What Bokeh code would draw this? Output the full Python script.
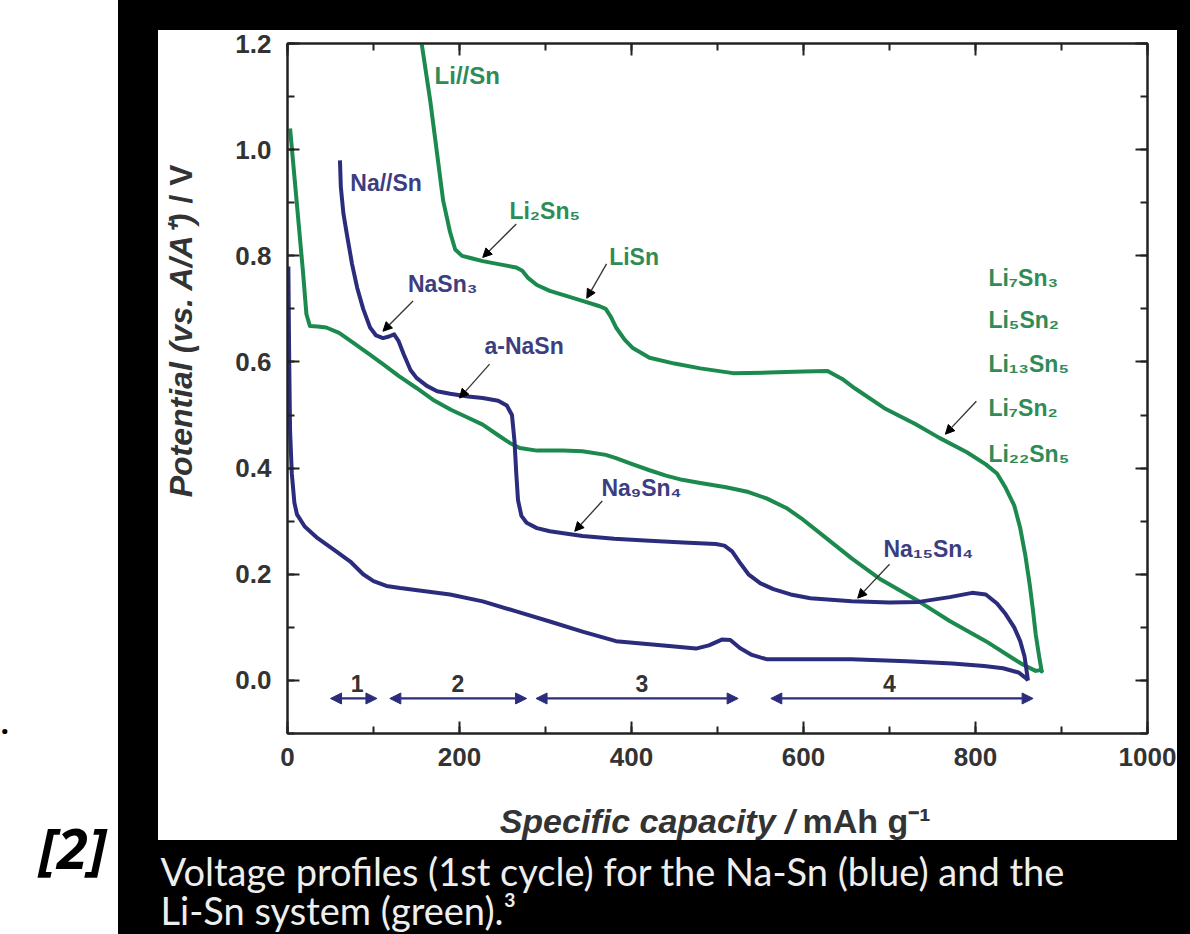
import math
from bokeh.plotting import figure
from bokeh.models import (Range1d, LinearAxis, SingleIntervalTicker, Label, Arrow,
                          NormalHead, PrintfTickFormatter, CustomJSTickFormatter, Spacer)
from bokeh.layouts import row, column
from bokeh.embed import file_html
from bokeh.resources import INLINE

# ---------------- data ----------------
# Li-Sn, lithiation (lower green)
li_dis_x = [3, 8, 13, 18, 22, 26, 35, 45, 60, 75, 95, 111, 130, 150, 169, 190, 210, 227, 245,
            258, 270, 290, 320, 343, 370, 382, 400, 421, 440, 459, 480, 510, 536, 557, 580,
            597, 625, 656, 690, 734, 770, 812, 840, 855, 870, 878]
li_dis_y = [1.04, 0.95, 0.86, 0.77, 0.69, 0.668, 0.667, 0.665, 0.655, 0.638, 0.615, 0.596,
            0.573, 0.551, 0.529, 0.51, 0.495, 0.482, 0.462, 0.448, 0.438, 0.433, 0.433, 0.432,
            0.425, 0.419, 0.408, 0.396, 0.386, 0.378, 0.372, 0.364, 0.355, 0.343, 0.325, 0.306,
            0.27, 0.23, 0.19, 0.149, 0.112, 0.074, 0.045, 0.03, 0.018, 0.02]
# Li-Sn, delithiation (upper green)
li_ch_x = [156, 166, 181, 189, 195, 203, 215, 227, 250, 266, 273, 280, 290, 305, 325, 343, 363,
           370, 376, 382, 392, 401, 421, 450, 480, 518, 560, 600, 628, 645, 660, 694, 730, 758,
           790, 812, 825, 835, 845, 852, 858, 863, 867, 870, 874, 877, 878]
li_ch_y = [1.2, 1.092, 0.904, 0.845, 0.812, 0.8, 0.795, 0.79, 0.783, 0.778, 0.772, 0.758, 0.745,
           0.734, 0.724, 0.715, 0.705, 0.7, 0.685, 0.665, 0.642, 0.627, 0.608, 0.597, 0.588,
           0.579, 0.58, 0.582, 0.583, 0.568, 0.55, 0.513, 0.483, 0.457, 0.43, 0.407, 0.39, 0.363,
           0.33, 0.287, 0.235, 0.181, 0.13, 0.087, 0.045, 0.017, 0.02]
# Na-Sn, sodiation (lower blue)
na_dis_x = [1, 2, 3, 5, 8, 11, 20, 35, 55, 73, 88, 100, 115, 131, 160, 189, 227, 266, 305, 343,
            382, 421, 450, 475, 490, 505, 515, 526, 540, 557, 600, 656, 720, 773, 810, 832, 850,
            859, 861]
na_dis_y = [0.78, 0.6, 0.47, 0.39, 0.335, 0.313, 0.29, 0.268, 0.245, 0.224, 0.2, 0.187, 0.178,
            0.174, 0.168, 0.162, 0.149, 0.13, 0.111, 0.092, 0.074, 0.068, 0.064, 0.06, 0.066,
            0.077, 0.076, 0.061, 0.048, 0.04, 0.04, 0.04, 0.036, 0.032, 0.027, 0.023, 0.015,
            0.004, 0.0]
# Na-Sn, desodiation (upper blue)
na_ch_x = [61, 62, 65, 69, 75, 81, 88, 96, 103, 111, 118, 124, 129, 135, 143, 150, 162, 174, 189,
           210, 227, 245, 255, 261, 264, 266, 268, 272, 278, 290, 305, 343, 380, 421, 460, 498,
           508, 517, 526, 536, 550, 565, 585, 608, 656, 700, 734, 770, 796, 812, 825, 835, 845,
           852, 857, 859, 861]
na_ch_y = [0.98, 0.93, 0.88, 0.841, 0.785, 0.74, 0.70, 0.665, 0.65, 0.645, 0.648, 0.652, 0.64,
           0.615, 0.585, 0.57, 0.555, 0.545, 0.54, 0.535, 0.532, 0.527, 0.518, 0.5, 0.45, 0.39,
           0.34, 0.31, 0.297, 0.287, 0.281, 0.272, 0.267, 0.263, 0.26, 0.257, 0.254, 0.243,
           0.222, 0.2, 0.183, 0.172, 0.162, 0.155, 0.149, 0.147, 0.148, 0.157, 0.165, 0.162,
           0.145, 0.125, 0.1, 0.074, 0.045, 0.023, 0.0]

# reaction regions (double arrows along the bottom)
region_start = [50, 119, 289, 562]
region_end = [104, 278, 524, 867]
region_label = ["1", "2", "3", "4"]
region_label_x = [81, 198, 412, 700]

# phase labels
phase_text = ["Li₂Sn₅", "LiSn", "NaSn₃", "a-NaSn", "Na₉Sn₄", "Na₁₅Sn₄"]
phase_x = [258, 374, 140, 229, 365, 693]
phase_y = [0.885, 0.797, 0.747, 0.63, 0.363, 0.247]
phase_series = ["li", "li", "na", "na", "na", "na"]
ptr_x0 = [266, 371, 146, 235, 366, 700]
ptr_y0 = [0.86, 0.785, 0.715, 0.596, 0.338, 0.219]
ptr_x1 = [227, 348, 111, 200, 334, 663]
ptr_y1 = [0.797, 0.72, 0.658, 0.532, 0.281, 0.155]

li_phase_list = ["Li₇Sn₃", "Li₅Sn₂", "Li₁₃Sn₅", "Li₇Sn₂", "Li₂₂Sn₅"]
li_phase_y = [0.759, 0.679, 0.596, 0.513, 0.426]

x_title = ["Specific capacity /", "mAh g⁻¹"]
y_title = ["Potential (vs. A/A⁺)", "/ V"]
caption_lines = ["Voltage profiles (1st cycle) for the Na-Sn (blue) and the",
                 "Li-Sn system (green).³"]

# ---------------- styles ----------------
GREEN = "#1c8a4e"
BLUE = "#2b2d7c"
GREEN_TXT = "#2f8c56"
BLUE_TXT = "#3b3e80"
INK = "#333333"
FONT = "Liberation Sans"


def panel(x0, y0, w, h, color):
    """A plain figure whose data coordinates equal page pixels (y downward)."""
    f = figure(width=w, height=h, x_range=Range1d(x0, x0 + w), y_range=Range1d(y0 + h, y0),
               output_backend="svg", toolbar_location=None,
               x_axis_location=None, y_axis_location=None,
               min_border=0, min_border_left=0, min_border_right=0,
               min_border_top=0, min_border_bottom=0,
               background_fill_color=color, border_fill_color=color)
    f.grid.visible = False
    f.outline_line_color = None
    return f


# ---------------- main plot ----------------
p = figure(width=972, height=770, x_range=Range1d(0, 1000), y_range=Range1d(-0.1, 1.2001),
           output_backend="svg", toolbar_location=None,
           min_border_left=82, min_border_right=30, min_border_top=13, min_border_bottom=67,
           background_fill_color="white", border_fill_color="white")
p.grid.visible = False
p.outline_line_color = "#222222"
p.outline_line_width = 2

bottom_ax = p.below[0]
left_ax = p.left[0]
xt = SingleIntervalTicker(interval=200, num_minor_ticks=2)
yt = SingleIntervalTicker(interval=0.2, num_minor_ticks=2)
bottom_ax.ticker = xt
left_ax.ticker = yt
left_ax.formatter = PrintfTickFormatter(format="%.1f")

blank_fmt = CustomJSTickFormatter(code="return ''")
top_ax = LinearAxis(ticker=xt, formatter=blank_fmt)
right_ax = LinearAxis(ticker=yt, formatter=blank_fmt)
p.add_layout(top_ax, "above")
p.add_layout(right_ax, "right")

for ax in [bottom_ax, left_ax, top_ax, right_ax]:
    ax.axis_line_color = "#222222"
    ax.axis_line_width = 2
    ax.major_tick_in = 12
    ax.major_tick_out = 0
    ax.minor_tick_in = 7
    ax.minor_tick_out = 0
    ax.major_tick_line_color = "#222222"
    ax.major_tick_line_width = 2
    ax.minor_tick_line_color = "#222222"
    ax.minor_tick_line_width = 2
    ax.major_label_text_font = FONT
    ax.major_label_text_font_style = "bold"
    ax.major_label_text_font_size = "26px"
    ax.major_label_text_color = INK
for ax in [top_ax, right_ax]:
    ax.major_label_standoff = 0
bottom_ax.major_label_standoff = 14
left_ax.major_label_standoff = 16

# curves
p.line(li_dis_x, li_dis_y, line_width=4, color=GREEN, line_join="round")
p.line(li_ch_x, li_ch_y, line_width=4, color=GREEN, line_join="round")
p.line(na_dis_x, na_dis_y, line_width=4, color=BLUE, line_join="round")
p.line(na_ch_x, na_ch_y, line_width=4, color=BLUE, line_join="round")

# region arrows
for s, e, t, tx in zip(region_start, region_end, region_label, region_label_x):
    p.add_layout(Arrow(x_start=s, y_start=-0.034, x_end=e, y_end=-0.034,
                       line_color=BLUE, line_width=2.2,
                       start=NormalHead(size=11, fill_color=BLUE, line_color=BLUE),
                       end=NormalHead(size=11, fill_color=BLUE, line_color=BLUE)))
    p.add_layout(Label(x=tx, y=-0.006, text=t, text_align="center", text_baseline="middle",
                       text_font=FONT, text_font_style="bold", text_font_size="23px",
                       text_color=INK))

# curve names
p.add_layout(Label(x=171, y=1.14, text="Li//Sn", text_baseline="middle", text_font=FONT,
                   text_font_style="bold", text_font_size="24px", text_color=GREEN_TXT))
p.add_layout(Label(x=73, y=0.938, text="Na//Sn", text_baseline="middle", text_font=FONT,
                   text_font_style="bold", text_font_size="23px", text_color=BLUE_TXT))

# phase labels with pointers
for t, x, y, s, a, b, c, d in zip(phase_text, phase_x, phase_y, phase_series,
                                  ptr_x0, ptr_y0, ptr_x1, ptr_y1):
    p.add_layout(Label(x=x, y=y, text=t, text_baseline="middle", text_font=FONT,
                       text_font_style="bold", text_font_size="23px",
                       text_color=GREEN_TXT if s == "li" else BLUE_TXT))
    p.add_layout(Arrow(x_start=a, y_start=b, x_end=c, y_end=d, line_color=INK,
                       line_width=1.3,
                       end=NormalHead(size=9, fill_color="black", line_color="black")))

for t, y in zip(li_phase_list, li_phase_y):
    p.add_layout(Label(x=815, y=y, text=t, text_baseline="middle", text_font=FONT,
                       text_font_style="bold", text_font_size="23px", text_color=GREEN_TXT))
p.add_layout(Arrow(x_start=801, y_start=0.526, x_end=765, y_end=0.464, line_color=INK,
                   line_width=1.3, end=NormalHead(size=9, fill_color="black", line_color="black")))

# ---------------- axis-title strips (page-pixel coordinates) ----------------
ytp = panel(158, 30, 47, 810, "white")
ytp.add_layout(Label(x=180, y=212, text=y_title[0], angle=math.pi / 2,
                     text_align="right", text_baseline="middle", text_font=FONT,
                     text_font_style="bold italic", text_font_size="32px", text_color=INK))
ytp.add_layout(Label(x=180, y=203, text=y_title[1], angle=math.pi / 2,
                     text_align="left", text_baseline="middle", text_font=FONT,
                     text_font_style="bold", text_font_size="32px", text_color=INK))

xtp = panel(205, 800, 972, 40, "white")
xtp.add_layout(Label(x=778, y=820, text=x_title[0], text_align="right", text_baseline="middle",
                     text_font=FONT, text_font_style="bold italic", text_font_size="34px",
                     text_color=INK))
xtp.add_layout(Label(x=787, y=820, text=x_title[1], text_align="left", text_baseline="middle",
                     text_font=FONT, text_font_style="bold", text_font_size="34px",
                     text_color=INK))

# ---------------- surrounding pieces ----------------
left = panel(0, 0, 118, 934, "white")
left.add_layout(Label(x=72, y=846, text="[2]", text_align="center", text_baseline="middle",
                      text_font="Open Sans", text_font_style="bold italic",
                      text_font_size="56px", text_color="black"))
left.add_layout(Label(x=0, y=722, text=".", text_align="left", text_baseline="middle",
                      text_font="Open Sans", text_font_style="bold",
                      text_font_size="30px", text_color="black"))

cap = panel(118, 840, 1072, 94, "black")
for t, y in zip(caption_lines, [870, 909]):
    cap.add_layout(Label(x=160, y=y, text=t, text_baseline="middle", text_font="Lato",
                         text_font_size="38px", text_color="#eeeeee"))

WHITE = {"background-color": "white"}
BLACK = {"background-color": "black"}
white_block = row(ytp, column(p, xtp, spacing=0, styles=WHITE), spacing=0, styles=WHITE)
mid = row(Spacer(width=40, height=810), white_block, Spacer(width=13, height=810),
          spacing=0, styles=BLACK)
right_part = column(Spacer(width=1072, height=30), mid, cap, spacing=0, styles=BLACK)
layout = row(left, right_part, spacing=0)

open("out.html", "w").write(file_html(layout, INLINE))
